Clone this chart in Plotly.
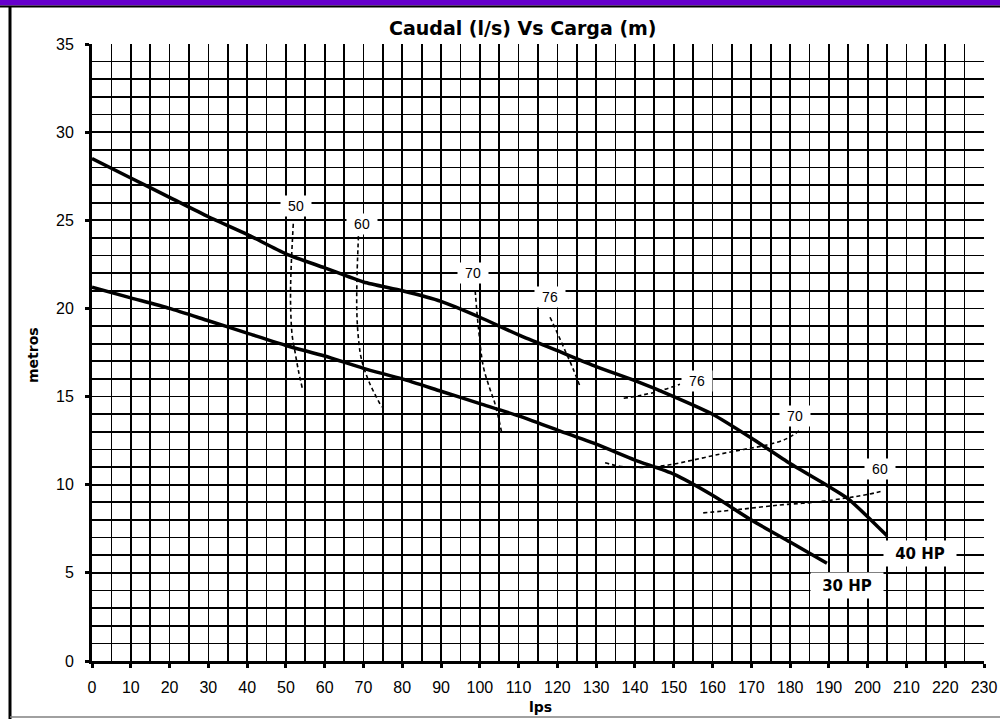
import plotly.graph_objects as go

# ---- data ----
hp40_x = [0, 10, 20, 30, 40, 50, 60, 70, 80, 90, 100, 110, 120, 130, 140, 150, 160, 170, 180, 190, 195, 205]
hp40_y = [28.5, 27.4, 26.3, 25.2, 24.2, 23.1, 22.3, 21.5, 21.0, 20.4, 19.5, 18.5, 17.6, 16.7, 15.9, 15.0, 14.0, 12.65, 11.2, 9.9, 9.2, 7.1]

hp30_x = [0, 10, 20, 30, 40, 50, 60, 70, 80, 90, 100, 110, 120, 130, 140, 150, 160, 170, 180, 189.5]
hp30_y = [21.2, 20.6, 20.0, 19.3, 18.6, 17.9, 17.3, 16.6, 16.0, 15.3, 14.6, 13.9, 13.1, 12.3, 11.4, 10.6, 9.4, 8.0, 6.75, 5.55]

eff50_x = [51.9, 51.3, 51.2, 51.6, 52.3, 53.2, 54.2]
eff50_y = [24.8, 22.0, 20.3, 18.5, 17.6, 16.5, 15.5]

eff60_x = [68.7, 68.3, 68.3, 68.7, 69.5, 71.5, 74.7]
eff60_y = [24.1, 21.5, 19.7, 18.3, 17.1, 15.8, 14.4]

eff70_x = [98.8, 99.6, 100.9, 102.5, 103.9, 105.6]
eff70_y = [21.0, 19.0, 16.7, 15.5, 14.6, 13.0]

eff76_x = [118.1, 120.0, 122.0, 124.0, 125.8]
eff76_y = [19.5, 18.6, 17.6, 16.6, 15.6]

eff76r_x = [137.1, 141.0, 145.7, 151.6]
eff76r_y = [14.9, 15.05, 15.28, 15.7]

eff70r_x = [132.3, 136.0, 141.3, 148.2, 155.0, 162.0, 168.0, 174.0, 179.0, 182.6]
eff70r_y = [11.25, 11.05, 10.98, 11.1, 11.4, 11.74, 12.0, 12.25, 12.6, 13.1]

eff60r_x = [157.6, 167.0, 177.4, 186.0, 194.6, 200.0, 204.1]
eff60r_y = [8.4, 8.6, 8.85, 9.0, 9.25, 9.45, 9.65]

eff_labels = ["50", "60", "70", "76", "76", "70", "60"]
eff_label_x = [52.5, 69.5, 98.3, 118.1, 156.1, 181.3, 203.2]
eff_label_y = [25.79, 24.77, 22.03, 20.67, 15.9, 13.92, 10.87]

hp_labels = ["40 HP", "30 HP"]
hp_label_x = [213.5, 194.8]
hp_label_y = [6.07, 4.28]

x_ticks = list(range(0, 231, 10))
y_ticks = list(range(0, 36, 5))

fig = go.Figure()

for xs, ys in [(hp40_x, hp40_y), (hp30_x, hp30_y)]:
    fig.add_trace(go.Scatter(x=xs, y=ys, mode="lines", line_shape="spline",
                             line=dict(color="black", width=3.5, smoothing=0.6),
                             showlegend=False, hoverinfo="skip"))

for xs, ys in [(eff50_x, eff50_y), (eff60_x, eff60_y), (eff70_x, eff70_y),
               (eff76_x, eff76_y), (eff76r_x, eff76r_y), (eff70r_x, eff70r_y),
               (eff60r_x, eff60r_y)]:
    fig.add_trace(go.Scatter(x=xs, y=ys, mode="lines", line_shape="spline",
                             line=dict(color="black", width=1.6, dash="4px,3px"),
                             showlegend=False, hoverinfo="skip"))

annotations = []
for t, ax_, ay_ in zip(eff_labels, eff_label_x, eff_label_y):
    annotations.append(dict(x=ax_, y=ay_, xref="x", yref="y", text=t, showarrow=False,
                            xanchor="center", yanchor="middle",
                            bgcolor="white", width=28, height=18,
                            font=dict(family="Liberation Sans, Arial", size=14, color="black")))
for t, ax_, ay_ in zip(hp_labels, hp_label_x, hp_label_y):
    annotations.append(dict(x=ax_, y=ay_, xref="x", yref="y", text="<b>%s</b>" % t, showarrow=False,
                            xanchor="center", yanchor="middle",
                            bgcolor="white", width=70, height=23,
                            font=dict(family="DejaVu Sans", size=15, color="black")))


def px(v):
    return (v - 92) / 892


def py(v):
    return (661 - v) / 617


# Title and axis titles
annotations.append(dict(x=px(523), y=py(28), xref="paper", yref="paper",
                        xanchor="center", yanchor="middle",
                        text="<b>Caudal (l/s) Vs Carga (m)</b>", showarrow=False,
                        font=dict(family="DejaVu Sans", size=19, color="black")))
annotations.append(dict(x=px(540), y=py(707), xref="paper", yref="paper",
                        xanchor="center", yanchor="middle",
                        text="<b>lps</b>", showarrow=False,
                        font=dict(family="DejaVu Sans", size=14, color="black")))
annotations.append(dict(x=px(33), y=py(355), xref="paper", yref="paper",
                        xanchor="center", yanchor="middle",
                        text="<b>metros</b>", showarrow=False, textangle=-90,
                        font=dict(family="DejaVu Sans", size=14, color="black")))

shapes = [
    dict(type="rect", xref="paper", yref="paper", x0=px(-5), x1=px(1005), y0=py(5.5), y1=py(-5),
         fillcolor="#6600CC", line=dict(width=0), layer="above"),
    dict(type="line", xref="paper", yref="paper", x0=px(-5), x1=px(1005), y0=py(6.4), y1=py(6.4),
         line=dict(color="black", width=2), layer="above"),
    dict(type="line", xref="paper", yref="paper", x0=px(10), x1=px(10), y0=py(6), y1=py(725),
         line=dict(color="black", width=3), layer="above"),
    dict(type="line", xref="paper", yref="paper", x0=px(10), x1=px(1005), y0=py(717), y1=py(717),
         line=dict(color="#808080", width=1.5), layer="above"),
]

fig.update_layout(
    width=1000, height=719, autosize=False,
    margin=dict(l=92, r=16, t=44, b=58),
    paper_bgcolor="white", plot_bgcolor="white",
    font=dict(family="Liberation Sans, Arial", size=16, color="black"),
    annotations=annotations, shapes=shapes,
    showlegend=False,
    xaxis=dict(range=[0, 230], tickvals=x_ticks, ticktext=[str(v) for v in x_ticks],
               showgrid=True, gridcolor="black", gridwidth=1.7,
               minor=dict(dtick=5, showgrid=True, gridcolor="black", gridwidth=1.7),
               zeroline=False, showline=True, linecolor="black", linewidth=3,
               ticks="outside", ticklen=4, tickwidth=3, tickcolor="black",
               ticklabelstandoff=6, fixedrange=True, automargin=False),
    yaxis=dict(range=[0, 35], tickvals=y_ticks, ticktext=[str(v) for v in y_ticks],
               showgrid=True, gridcolor="black", gridwidth=1.7,
               minor=dict(dtick=1, showgrid=True, gridcolor="black", gridwidth=1.7),
               zeroline=False, showline=True, linecolor="black", linewidth=3,
               ticks="outside", ticklen=4, tickwidth=3, tickcolor="black",
               ticklabelstandoff=8, fixedrange=True, automargin=False),
)

fig.write_html("out.html",
               config={"responsive": False, "displayModeBar": False, "staticPlot": True},
               post_script="document.body.style.margin='0';document.body.style.overflow='hidden';")
